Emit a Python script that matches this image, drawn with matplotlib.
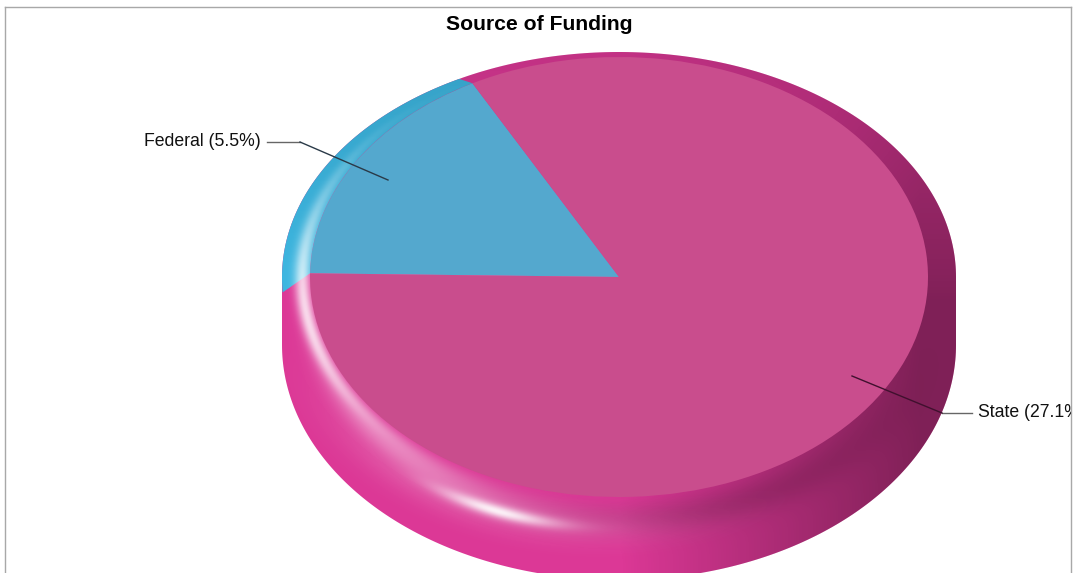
"""Source of Funding: glossy 3D-look pie, shaded with alpha overlays."""
import matplotlib
matplotlib.use("Agg")
import matplotlib.pyplot as plt
import numpy as np
from matplotlib.transforms import Affine2D

plt.rcParams["font.family"] = ["Liberation Sans", "DejaVu Sans"]

# data
names = ["Federal", "State"]
percents = [5.5, 27.1]
face_colors = ["#54A8CE", "#C94D8D"]
rim_colors = ["#3DB6E0", "#DC3896"]

W, H = 1073, 573
CX, CY = 619, 277   # pie centre, pixels
RX, RY = 337, 225   # outer ellipse
IN_X, IN_Y = 309, 220  # flat top face


def dx(px):
    return (np.asarray(px, dtype=float) - CX) / RX


def dy(py):
    return (CY - np.asarray(py, dtype=float)) / RY


def gauss(v, mu, sig):
    return np.exp(-0.5 * ((v - mu) / sig) ** 2)


def build_shading():
    """White and black alpha layers for the rim and the side wall."""
    ys, xs = np.mgrid[0:H, 0:W] + 0.5
    a = xs - CX
    b = ys - CY
    ry_ridge = np.where(b < 0, RY, 250.0)
    rho_in = np.hypot(a / IN_X, b / IN_Y) + 1e-6
    rho_out = np.hypot(a / RX, b / ry_ridge) + 1e-6
    u = (rho_in - 1) / (rho_in / rho_out - 1 + 1e-6)
    u = np.clip(u, 0, 1.5)
    phi = np.degrees(np.arctan2(-b / RY, a / RX)) % 360
    below = (rho_out - 1) * 250  # pixels under the ridge

    # darker to the right, but less so on the far rim at the top
    y_fade = 0.35 + 0.65 * np.clip((ys - 90) / 210, 0, 1)
    dark = 0.42 * np.clip((xs - 620) / 300, 0, 1) * y_fade
    dark = dark + 0.12 * np.clip(-b / RY, 0, 1)
    dark = dark + 0.13 * gauss(below, -8, 12) * gauss(phi, 282, 22)
    dark = np.clip(dark, 0, 1)

    light = 0.8 * gauss(u, 0.27, 0.2) * gauss(phi, 190, 24) * (u < 1)
    light = light + 0.22 * gauss(u, 0.6, 0.25) * gauss(phi, 228, 16) * (u < 1.2)
    light = light + 0.72 * gauss(below, 1, 4.5) * gauss(phi, 251, 7)
    light = light + 0.2 * gauss(below, 0, 13) * gauss(phi, 246, 20)
    light = np.clip(light, 0, 1)

    dark_img = np.zeros((H, W, 4))
    dark_img[..., 3] = dark
    light_img = np.ones((H, W, 4))
    light_img[..., 3] = light
    return dark_img, light_img


def main():
    fig = plt.figure(figsize=(W / 100, H / 100), dpi=100)
    ax = fig.add_axes([5 / W, 0, (1071 - 5) / W, (H - 7) / H])

    values = np.array(percents)
    wedges, _ = ax.pie(values, colors=face_colors, startangle=118.3, radius=1,
                       wedgeprops={"linewidth": 0})
    for w in wedges:
        w.set_transform(Affine2D().scale(IN_X / RX, IN_Y / RY) + ax.transData)
        w.set_zorder(5)

    ax.set_aspect("auto")
    ax.set_frame_on(True)
    ax.set_xlim(dx(5), dx(1071))
    ax.set_ylim(dy(H), dy(7))
    ax.set_xticks([])
    ax.set_yticks([])
    for s in ["left", "right", "top"]:
        ax.spines[s].set_color("#A8A8A8")
        ax.spines[s].set_linewidth(1.0)
    ax.spines["bottom"].set_visible(False)

    # silhouette: top half of the disc, lower half pushed down by the wall
    t = np.radians(np.linspace(0, 180, 200))
    top_x, top_y = np.cos(t), np.sin(t)
    t = np.radians(np.linspace(180, 360, 200))
    low_x, low_y = np.cos(t), dy(345) + np.sin(t) * 235 / RY
    sil, = ax.fill(np.r_[top_x, low_x], np.r_[top_y, low_y],
                   color=rim_colors[1], lw=0, zorder=1)

    # Federal part of the bevel, its lower end bends down towards the rim
    fed = wedges[0]
    th = np.radians(np.linspace(fed.theta1, fed.theta2 + 4.5, 80))
    th_in = np.radians(np.linspace(fed.theta2, fed.theta1, 80))
    out_y = np.where(np.sin(th) < 0, 250 / RY, 1) * np.sin(th)
    ax.fill(np.r_[np.cos(th), np.cos(th_in) * IN_X / RX],
            np.r_[out_y, np.sin(th_in) * IN_Y / RY],
            color=rim_colors[0], lw=0, zorder=2)

    dark_img, light_img = build_shading()
    extent = [dx(0), dx(W), dy(H), dy(0)]
    for img in (dark_img, light_img):
        im = ax.imshow(img, extent=extent, origin="upper", aspect="auto",
                       interpolation="bilinear", zorder=3)
        im.set_clip_path(sil)
    ax.set_xlim(dx(5), dx(1071))
    ax.set_ylim(dy(H), dy(7))

    # leader lines
    ax.plot(dx([267, 300]), dy([142, 142]), color="#666666", lw=1.0, zorder=6)
    ax.plot(dx([300, 388]), dy([142, 180]), color="#2A3A48", lw=1.0, zorder=6)
    ax.plot(dx([942, 972]), dy([413, 413]), color="#666666", lw=1.0, zorder=6)
    ax.plot(dx([852, 942]), dy([376, 413]), color="#40102E", lw=1.0, zorder=6)

    # labels
    ax.text(dx(144), dy(141.5), f"{names[0]} ({percents[0]}%)", fontsize=12.7,
            va="center", ha="left", color="#111111", zorder=7)
    ax.text(dx(978), dy(412.5), f"{names[1]} ({percents[1]}%)", fontsize=12.7,
            va="center", ha="left", color="#111111", zorder=7, clip_on=True)
    ax.text(dx(539.5), dy(24), "Source of Funding", fontsize=15.2, fontweight="bold",
            va="center", ha="center", color="black", zorder=7)

    fig.savefig("out.png", dpi=100)
    plt.close(fig)


if __name__ == "__main__":
    main()
